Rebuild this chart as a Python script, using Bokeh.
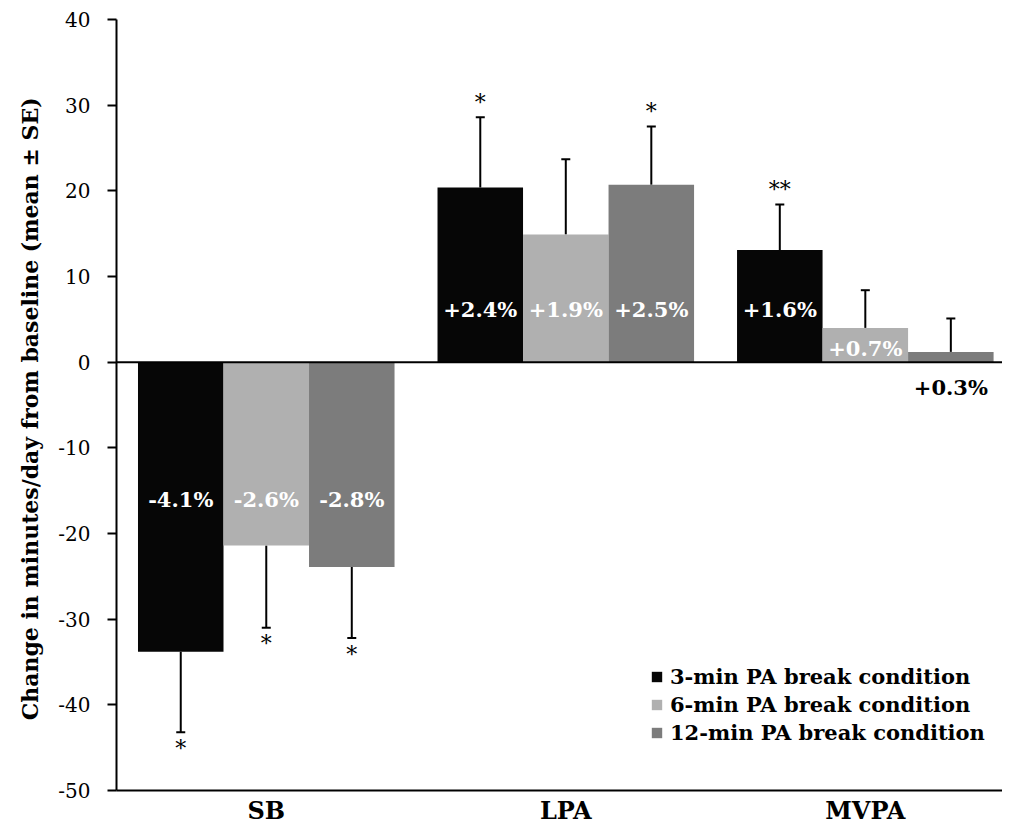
from bokeh.plotting import figure
from bokeh.models import Range1d, FixedTicker, ColumnDataSource, Span, Whisker, TeeHead, Legend, LegendItem
from bokeh.core.properties import value
from bokeh.embed import file_html
from bokeh.resources import INLINE

# ---------------- data ----------------
categories = ["SB", "LPA", "MVPA"]
conditions = ["3-min PA break condition", "6-min PA break condition", "12-min PA break condition"]
mean_3min = [-33.8, 20.4, 13.1]
mean_6min = [-21.4, 14.9, 4.0]
mean_12min = [-23.9, 20.7, 1.2]
se_3min = [9.4, 8.2, 5.3]
se_6min = [9.6, 8.8, 4.4]
se_12min = [8.3, 6.8, 3.9]
pct_3min = ["-4.1%", "+2.4%", "+1.6%"]
pct_6min = ["-2.6%", "+1.9%", "+0.7%"]
pct_12min = ["-2.8%", "+2.5%", "+0.3%"]
sig_3min = ["*", "*", "**"]
sig_6min = ["*", "", ""]
sig_12min = ["*", "*", ""]
# where each percentage annotation sits (data units)
pct_y_3min = [-16.0, 6.2, 6.2]
pct_y_6min = [-16.0, 6.2, 1.6]
pct_y_12min = [-16.0, 6.2, -2.9]
y_ticks = [40, 30, 20, 10, 0, -10, -20, -30, -40, -50]
y_tick_labels = ["40", "30", "20", "10", "0", "-10", "-20", "-30", "-40", "-50"]

# ---------------- styles ----------------
FONT = value("DejaVu Serif")
bar_colors = ["#060606", "#b0b0b0", "#7c7c7c"]
pct_colors = [["white", "white", "white"], ["white", "white", "white"], ["white", "white", "black"]]
bar_w = 0.2855
offsets = [-bar_w, 0.0, bar_w]

p = figure(width=1002, height=827, output_backend="svg", toolbar_location=None,
           x_range=Range1d(0, 2.958), y_range=Range1d(-50, 40),
           min_border_left=116, min_border_right=0, min_border_top=19, min_border_bottom=37)
p.outline_line_color = None
p.xgrid.visible = False
p.ygrid.visible = False
p.background_fill_color = "white"

means = [mean_3min, mean_6min, mean_12min]
ses = [se_3min, se_6min, se_12min]
pcts = [pct_3min, pct_6min, pct_12min]
sigs = [sig_3min, sig_6min, sig_12min]
pct_ys = [pct_y_3min, pct_y_6min, pct_y_12min]

renderers = []
for k in range(3):
    xs = [i + 0.5 + offsets[k] for i in range(len(categories))]
    vals = means[k]
    ends = [v + (s if v >= 0 else -s) for v, s in zip(vals, ses[k])]
    src = ColumnDataSource(dict(x=xs, top=vals))
    r = p.vbar(x="x", top="top", bottom=0, width=bar_w, source=src,
               fill_color=bar_colors[k], line_color=None)
    renderers.append(r)

    pos = [j for j, v in enumerate(vals) if v >= 0]
    neg = [j for j, v in enumerate(vals) if v < 0]
    if pos:
        ps = ColumnDataSource(dict(x=[xs[j] for j in pos], lo=[vals[j] for j in pos], hi=[ends[j] for j in pos]))
        p.add_layout(Whisker(base="x", lower="lo", upper="hi", source=ps, dimension="height",
                             line_color="black", line_width=2, lower_head=None,
                             upper_head=TeeHead(size=9, line_width=2, line_color="black")))
        ss = ColumnDataSource(dict(x=[xs[j] for j in pos], y=[ends[j] for j in pos], t=[sigs[k][j] for j in pos]))
        p.text(x="x", y="y", text="t", source=ss, text_align="center", text_baseline="middle",
               y_offset=-15, text_font=FONT, text_font_size="22px", text_color="black")
    if neg:
        ns = ColumnDataSource(dict(x=[xs[j] for j in neg], lo=[ends[j] for j in neg], hi=[vals[j] for j in neg]))
        p.add_layout(Whisker(base="x", lower="lo", upper="hi", source=ns, dimension="height",
                             line_color="black", line_width=2, upper_head=None,
                             lower_head=TeeHead(size=9, line_width=2, line_color="black")))
        ss = ColumnDataSource(dict(x=[xs[j] for j in neg], y=[ends[j] for j in neg], t=[sigs[k][j] for j in neg]))
        p.text(x="x", y="y", text="t", source=ss, text_align="center", text_baseline="middle",
               y_offset=16, text_font=FONT, text_font_size="22px", text_color="black")

    ls = ColumnDataSource(dict(x=xs, y=pct_ys[k], t=pcts[k], c=pct_colors[k]))
    p.text(x="x", y="y", text="t", text_color="c", source=ls, text_align="center", text_baseline="middle",
           text_font=FONT, text_font_style="bold", text_font_size="21px")

p.add_layout(Span(location=0, dimension="width", line_color="black", line_width=2))

# axes
p.yaxis.ticker = FixedTicker(ticks=y_ticks)
p.yaxis.major_label_overrides = {t: l for t, l in zip(y_ticks, y_tick_labels)}
p.yaxis.minor_tick_line_color = None
p.yaxis.major_tick_out = 9
p.yaxis.major_tick_in = 0
p.yaxis.major_tick_line_width = 2
p.yaxis.axis_line_width = 2
p.yaxis.major_label_text_font = "DejaVu Serif"
p.yaxis.major_label_text_font_size = "20px"
p.yaxis.major_label_text_color = "black"
p.yaxis.major_label_standoff = 17
p.yaxis.axis_label = "Change in minutes/day  from baseline (mean \u00b1 SE)"
p.yaxis.axis_label_text_font = "DejaVu Serif"
p.yaxis.axis_label_text_font_style = "bold"
p.yaxis.axis_label_text_font_size = "22px"
p.yaxis.axis_label_text_color = "black"
p.yaxis.axis_label_standoff = 12

p.xaxis.ticker = FixedTicker(ticks=[i + 0.5 for i in range(len(categories))])
p.xaxis.major_label_overrides = {i + 0.5: c for i, c in enumerate(categories)}
p.xaxis.major_tick_line_color = None
p.xaxis.minor_tick_line_color = None
p.xaxis.major_tick_out = 0
p.xaxis.axis_line_width = 2
p.xaxis.major_label_text_font = "DejaVu Serif"
p.xaxis.major_label_text_font_style = "bold"
p.xaxis.major_label_text_font_size = "24px"
p.xaxis.major_label_text_color = "black"
p.xaxis.major_label_standoff = 5

legend = Legend(items=[LegendItem(label=conditions[k], renderers=[renderers[k]]) for k in range(3)],
                location=(534, 45), padding=0, margin=0, spacing=3,
                glyph_width=13, glyph_height=13, label_standoff=7,
                label_text_font="DejaVu Serif", label_text_font_style="bold",
                label_text_font_size="21px", label_text_color="black",
                border_line_color=None, background_fill_alpha=0)
p.add_layout(legend)

open("out.html", "w").write(file_html(p, INLINE))
